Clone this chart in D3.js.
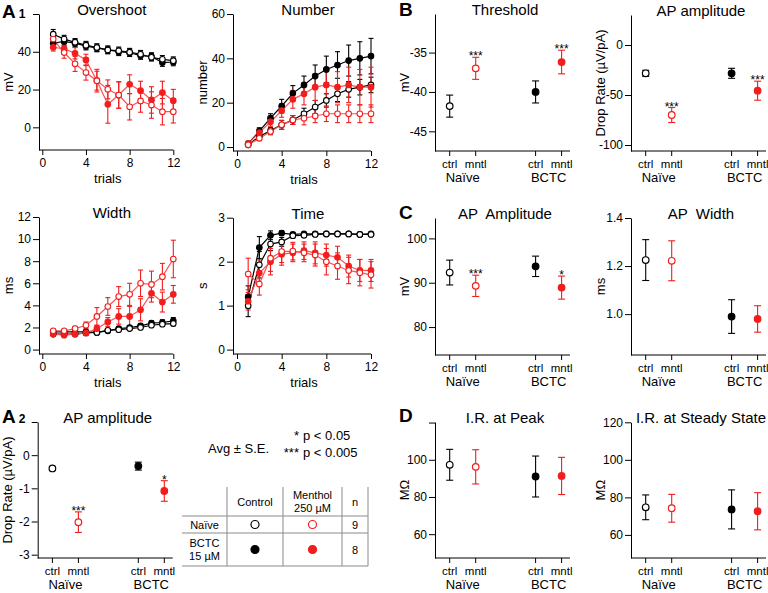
<!DOCTYPE html>
<html>
<head>
<meta charset="utf-8">
<script src="https://cdn.jsdelivr.net/npm/d3@7"></script>
<style>
  body { margin: 0; background: #fff; }
  svg { display: block; font-family: "Liberation Sans", Arial, sans-serif; }
</style>
</head>
<body>
<div id="chart"></div>
<script>
// ---------- data ----------
const trials = [1, 2, 3, 4, 5, 6, 7, 8, 9, 10, 11, 12];
const trialTicks = [0, 4, 8, 12];

// Overshoot (mV)
const overshootNaiveCtrl = [49.3, 46.7, 45, 43.5, 42.2, 41, 40.5, 39.8, 38.7, 37.1, 36, 35.3];
const overshootNaiveCtrlErr = [2.5, 2, 2, 2, 2, 2, 2, 2, 2, 2, 2, 2];
const overshootNaiveMntl = [46.7, 39.6, 33.6, 29, 24.7, 20.1, 17.1, 10.9, 14, 11.8, 8.3, 8.3];
const overshootNaiveMntlErr = [2, 3, 4, 4, 5, 5, 7, 7, 6, 7, 7, 6];
const overshootBctcCtrl = [44.5, 45.5, 44.5, 43, 42, 41, 40, 39.5, 38, 37.5, 34.3, 34.6];
const overshootBctcCtrlErr = [2, 2, 2, 2, 2, 2, 2, 2, 2, 2, 2, 2];
const overshootBctcMntl = [42.4, 41.5, 39.2, 35.7, 24.7, 12.2, 17.1, 22.8, 19.4, 14.5, 18.4, 14.1];
const overshootBctcMntlErr = [2, 2, 3, 3, 6, 10, 7, 5, 5, 7, 6, 6];

// Number of APs
const numberNaiveCtrl = [1, 4.7, 7.4, 10, 12.2, 15, 18, 21, 24, 26, 27, 28];
const numberNaiveCtrlErr = [0.5, 1, 1.5, 2, 2, 2.5, 3, 3, 3.5, 3.5, 3.5, 3.5];
const numberNaiveMntl = [1, 3.9, 7, 10, 12.2, 13, 14, 15, 15, 15, 15, 15];
const numberNaiveMntlErr = [0.5, 1, 1.5, 2, 2, 3, 3, 3.5, 4, 4, 4, 4];
const numberBctcCtrl = [1.5, 7.2, 13, 18.5, 24.2, 28, 32, 35, 37, 39, 40, 41];
const numberBctcCtrlErr = [0.5, 1.5, 2, 3, 3.5, 4, 5, 6, 6, 7, 7.5, 8];
const numberBctcMntl = [1.5, 6.5, 11.4, 16.4, 21.5, 24, 27, 28, 27, 28, 27, 27];
const numberBctcMntlErr = [0.5, 1.5, 2, 3, 4, 5, 6, 7, 7, 8, 8, 9];

// Width (ms)
const widthNaiveCtrl = [1.6, 1.6, 1.6, 1.6, 1.55, 1.75, 1.8, 1.9, 2.0, 2.2, 2.3, 2.35];
const widthNaiveCtrlErr = [0.1, 0.1, 0.1, 0.1, 0.1, 0.15, 0.15, 0.15, 0.15, 0.15, 0.2, 0.2];
const widthNaiveMntl = [1.7, 1.7, 1.9, 2.2, 3.0, 3.9, 4.8, 5.0, 6.0, 5.9, 6.6, 8.2];
const widthNaiveMntlErr = [0.1, 0.1, 0.2, 0.3, 0.8, 0.8, 0.9, 1.0, 1.2, 1.2, 1.2, 1.7];
const widthBctcCtrl = [1.4, 1.4, 1.4, 1.5, 1.55, 1.7, 1.9, 2.0, 2.15, 2.4, 2.45, 2.6];
const widthBctcCtrlErr = [0.1, 0.1, 0.1, 0.1, 0.1, 0.15, 0.15, 0.15, 0.2, 0.2, 0.25, 0.3];
const widthBctcMntl = [1.4, 1.3, 1.4, 1.5, 1.9, 2.5, 3.0, 3.0, 3.6, 5.1, 4.3, 5.0];
const widthBctcMntlErr = [0.1, 0.1, 0.15, 0.2, 0.3, 0.4, 0.7, 0.9, 1.0, 0.8, 0.9, 0.8];

// Time (s)
const timeNaiveCtrl = [1.0, 1.93, 2.4, 2.45, 2.59, 2.6, 2.62, 2.63, 2.63, 2.63, 2.62, 2.62];
const timeNaiveCtrlErr = [0.25, 0.3, 0.15, 0.1, 0.05, 0.04, 0.03, 0.03, 0.03, 0.03, 0.03, 0.03];
const timeNaiveMntl = [1.72, 1.49, 2.08, 2.23, 2.24, 2.2, 2.15, 2.0, 1.9, 1.8, 1.75, 1.7];
const timeNaiveMntlErr = [0.36, 0.25, 0.3, 0.25, 0.2, 0.2, 0.25, 0.3, 0.3, 0.3, 0.3, 0.3];
const timeBctcCtrl = [1.2, 2.32, 2.6, 2.65, 2.62, 2.63, 2.63, 2.63, 2.63, 2.63, 2.62, 2.63];
const timeBctcCtrlErr = [0.25, 0.25, 0.1, 0.05, 0.04, 0.03, 0.03, 0.03, 0.03, 0.03, 0.03, 0.03];
const timeBctcMntl = [1.1, 1.74, 2.0, 2.17, 2.2, 2.25, 2.2, 2.15, 2.1, 1.9, 1.8, 1.8];
const timeBctcMntlErr = [0.2, 0.3, 0.3, 0.25, 0.2, 0.2, 0.25, 0.25, 0.25, 0.25, 0.25, 0.25];

// summary panels: order is Naive ctrl, Naive mntl, BCTC ctrl, BCTC mntl
const groups = ['Naïve', 'BCTC'];
const conds = ['ctrl', 'mntl'];

const a2Drop = [-0.4, -2.02, -0.33, -1.08];
const a2DropErr = [0.05, 0.31, 0.12, 0.31];
const a2Stars = ['', '***', '', '*'];

const threshold = [-41.8, -37, -40, -36.2];
const thresholdErr = [1.4, 1.4, 1.4, 1.5];
const thresholdStars = ['', '***', '', '***'];

const bAmpDrop = [-28.3, -70, -28.3, -45.7];
const bAmpDropErr = [3, 7.5, 5, 9.5];
const bAmpStars = ['', '***', '', '***'];

const cAmplitude = [92.3, 89.3, 93.7, 88.9];
const cAmplitudeErr = [2.8, 2.4, 2.3, 2.6];
const cAmplitudeStars = ['', '***', '', '*'];

const cWidth = [1.225, 1.222, 0.99, 0.98];
const cWidthErr = [0.085, 0.083, 0.07, 0.055];

const irPeak = [97.3, 96.2, 91, 91.3];
const irPeakErr = [8.3, 9.2, 11, 10];

const irSteady = [74.7, 74.2, 73.6, 72.6];
const irSteadyErr = [6.6, 7.4, 10.4, 9.9];

// legend table
const tableCols = [['Control'], ['Menthol', '250 µM'], ['n']];
const tableRows = [['Naïve'], ['BCTC', '15 µM']];
const tableN = [9, 8];

// ---------- drawing ----------
const RED = '#f21d1d';
const RED_LINE = '#ff5050';

const svg = d3.select('#chart').append('svg')
  .attr('width', 768)
  .attr('height', 593);

function styleAxis(sel) {
  sel.attr('font-size', 12).attr('font-family', null);
  sel.selectAll('path, line').attr('stroke', '#000').attr('stroke-width', 1);
}

function errorBar(g, x, y0, y1, color, cap) {
  g.append('line').attr('x1', x).attr('x2', x).attr('y1', y0).attr('y2', y1)
    .attr('stroke', color).attr('stroke-width', 1.1);
  [y0, y1].forEach(yy => {
    g.append('line').attr('x1', x - cap).attr('x2', x + cap).attr('y1', yy).attr('y2', yy)
      .attr('stroke', color).attr('stroke-width', 1.1);
  });
}

function yLabel(g, text, x, y) {
  g.append('text')
    .attr('transform', `translate(${x},${y}) rotate(-90)`)
    .attr('text-anchor', 'middle')
    .attr('font-size', 13)
    .text(text);
}

// panel with 12 trials
function trialPanel(p) {
  const x = d3.scaleLinear().domain([0, 12]).range([p.x0, p.x1]);
  const y = d3.scaleLinear().domain(p.yDomain).range([p.bottom, p.top]);
  const g = svg.append('g');

  const tickVals = p.yTicks.concat(p.hiddenTicks || []);
  g.append('g')
    .attr('transform', `translate(${p.ax},0)`)
    .call(d3.axisLeft(y).tickValues(tickVals).tickSize(6).tickPadding(2).tickSizeOuter(0)
      .tickFormat(d => p.yTicks.includes(d) ? d : ''))
    .call(styleAxis);

  const xa = g.append('g')
    .attr('transform', `translate(0,${p.bottom})`)
    .call(d3.axisBottom(x).tickValues(trialTicks).tickSize(5).tickPadding(3))
    .call(styleAxis);
  xa.select('.domain').remove();
  g.append('line').attr('x1', p.ax).attr('x2', p.x1).attr('y1', p.bottom).attr('y2', p.bottom)
    .attr('stroke', '#000');

  g.append('text').attr('x', (p.x0 + p.x1) / 2).attr('y', p.bottom + 33)
    .attr('text-anchor', 'middle').attr('font-size', 13).text('trials');
  g.append('text').attr('x', (p.x0 + p.x1) / 2 + 4).attr('y', p.top + 1)
    .attr('text-anchor', 'middle').attr('font-size', 15).text(p.title);
  yLabel(g, p.ylabel, p.ax - 26, (p.top + p.bottom) / 2);

  const line = d3.line().x((d, i) => x(trials[i])).y(d => y(d));

  p.series.forEach(s => {
    const lineColor = s.color === '#000' ? '#000' : RED_LINE;
    g.append('path').datum(s.values)
      .attr('d', line).attr('fill', 'none')
      .attr('stroke', lineColor).attr('stroke-width', 1.2);
    s.values.forEach((v, i) => {
      errorBar(g, x(trials[i]), y(v - s.errs[i]), y(v + s.errs[i]), s.color, 2.5);
    });
  });
  p.series.forEach(s => {
    g.selectAll(null).data(s.values).enter().append('circle')
      .attr('cx', (d, i) => x(trials[i]))
      .attr('cy', d => y(d))
      .attr('r', 2.8)
      .attr('fill', s.filled ? s.color : '#fff')
      .attr('stroke', s.color)
      .attr('stroke-width', 1.1);
  });
}

// ctrl / mntl summary panel
function summaryPanel(p) {
  const gx = d3.scalePoint().domain(groups).range([p.ax + 27.7, p.ax + 113.6]);
  const cx = d3.scalePoint().domain(conds).range([-13, 13]);
  const y = d3.scaleLinear().domain(p.yDomain).range([p.bottom, p.top]);
  const g = svg.append('g');

  const rows = [];
  groups.forEach((grp, i) => conds.forEach((c, j) => {
    const k = i * 2 + j;
    rows.push({ grp, cond: c, v: p.values[k], e: p.errs[k],
      star: p.stars ? p.stars[k] : '',
      color: j === 0 ? '#000' : RED, filled: i === 1 });
  }));
  const px = d => gx(d.grp) + cx(d.cond);

  const tickVals = p.yTicks.concat(p.hiddenTicks || []);
  g.append('g')
    .attr('transform', `translate(${p.ax},0)`)
    .call(d3.axisLeft(y).tickValues(tickVals).tickSize(6).tickPadding(2).tickSizeOuter(0)
      .tickFormat(d => p.yTicks.includes(d) ? (p.fmt ? p.fmt(d) : d) : ''))
    .call(styleAxis);

  g.append('line').attr('x1', p.ax).attr('x2', p.ax + 135).attr('y1', p.bottom).attr('y2', p.bottom)
    .attr('stroke', '#000');
  rows.forEach(d => {
    g.append('line').attr('x1', px(d)).attr('x2', px(d))
      .attr('y1', p.bottom).attr('y2', p.bottom + 5).attr('stroke', '#000');
    g.append('text').attr('x', px(d)).attr('y', p.bottom + 17)
      .attr('text-anchor', 'middle').attr('font-size', 11.5).text(d.cond);
  });
  groups.forEach(grp => {
    g.append('text').attr('x', gx(grp)).attr('y', p.bottom + 31)
      .attr('text-anchor', 'middle').attr('font-size', 13).text(grp);
  });

  g.append('text').attr('x', p.ax + 70).attr('y', p.top + 1)
    .attr('text-anchor', 'middle').attr('font-size', 15)
    .style('white-space', 'pre').text(p.title);
  yLabel(g, p.ylabel, p.ax - 26, (p.top + p.bottom) / 2);

  rows.forEach(d => {
    errorBar(g, px(d), y(d.v - d.e), y(d.v + d.e), d.color, 3.5);
    if (d.star) {
      g.append('text').attr('x', px(d)).attr('y', y(d.v + d.e) + 3)
        .attr('text-anchor', 'middle').attr('font-size', 12).text(d.star);
    }
  });
  g.selectAll(null).data(rows).enter().append('circle')
    .attr('cx', px)
    .attr('cy', d => y(d.v))
    .attr('r', 3.3)
    .attr('fill', d => d.filled ? d.color : '#fff')
    .attr('stroke', d => d.color)
    .attr('stroke-width', 1.2);
}

function series(nc, nce, nm, nme, bc, bce, bm, bme) {
  return [
    { values: bc, errs: bce, color: '#000', filled: true },
    { values: nc, errs: nce, color: '#000', filled: false },
    { values: bm, errs: bme, color: RED, filled: true },
    { values: nm, errs: nme, color: RED, filled: false }
  ];
}

// ---- A1 ----
trialPanel({ ax: 39, x0: 42.3, x1: 173.3, top: 14, bottom: 150, yDomain: [-12, 60],
  yTicks: [0, 20, 40], hiddenTicks: [60], title: 'Overshoot', ylabel: 'mV',
  series: series(overshootNaiveCtrl, overshootNaiveCtrlErr, overshootNaiveMntl, overshootNaiveMntlErr,
    overshootBctcCtrl, overshootBctcCtrlErr, overshootBctcMntl, overshootBctcMntlErr) });

trialPanel({ ax: 233, x0: 237, x1: 371, top: 14, bottom: 151, yDomain: [-1.8, 60],
  yTicks: [0, 20, 40, 60], title: 'Number', ylabel: 'number',
  series: series(numberNaiveCtrl, numberNaiveCtrlErr, numberNaiveMntl, numberNaiveMntlErr,
    numberBctcCtrl, numberBctcCtrlErr, numberBctcMntl, numberBctcMntlErr) });

trialPanel({ ax: 39, x0: 42.3, x1: 173.3, top: 217, bottom: 354, yDomain: [-0.4, 12],
  yTicks: [0, 2, 4, 6, 8, 10, 12], title: 'Width', ylabel: 'ms',
  series: series(widthNaiveCtrl, widthNaiveCtrlErr, widthNaiveMntl, widthNaiveMntlErr,
    widthBctcCtrl, widthBctcCtrlErr, widthBctcMntl, widthBctcMntlErr) });

trialPanel({ ax: 233, x0: 237, x1: 371, top: 217.7, bottom: 354, yDomain: [-0.1, 3],
  yTicks: [0, 1, 2, 3], title: 'Time', ylabel: 's',
  series: series(timeNaiveCtrl, timeNaiveCtrlErr, timeNaiveMntl, timeNaiveMntlErr,
    timeBctcCtrl, timeBctcCtrlErr, timeBctcMntl, timeBctcMntlErr) });

// ---- A2 ----
summaryPanel({ ax: 37.7, top: 422, bottom: 558, yDomain: [-3.1, 1], yTicks: [-3, -2, -1, 0],
  hiddenTicks: [1], title: 'AP amplitude', ylabel: 'Drop Rate (µV/pA)',
  values: a2Drop, errs: a2DropErr, stars: a2Stars });

// ---- B ----
summaryPanel({ ax: 435, top: 14, bottom: 151, yDomain: [-47.5, -30.1], yTicks: [-45, -40, -35],
  title: 'Threshold', ylabel: 'mV', values: threshold, errs: thresholdErr, stars: thresholdStars });
summaryPanel({ ax: 631, top: 15, bottom: 151, yDomain: [-106, 30], yTicks: [-100, -50, 0],
  title: 'AP amplitude', ylabel: 'Drop Rate (µV/pA)', values: bAmpDrop, errs: bAmpDropErr,
  stars: bAmpStars });

// ---- C ----
summaryPanel({ ax: 435, top: 218, bottom: 355, yDomain: [73.7, 104.6], yTicks: [80, 90, 100],
  title: 'AP  Amplitude', ylabel: 'mV', values: cAmplitude, errs: cAmplitudeErr,
  stars: cAmplitudeStars });
summaryPanel({ ax: 631, top: 218, bottom: 355, yDomain: [0.83, 1.4], yTicks: [1.0, 1.2, 1.4],
  fmt: d3.format('.1f'), title: 'AP  Width', ylabel: 'ms', values: cWidth, errs: cWidthErr });

// ---- D ----
summaryPanel({ ax: 435, top: 422, bottom: 558, yDomain: [47.2, 120.3], yTicks: [60, 80, 100],
  hiddenTicks: [120], title: 'I.R. at Peak', ylabel: 'MΩ', values: irPeak, errs: irPeakErr });
summaryPanel({ ax: 631, top: 422.3, bottom: 558, yDomain: [47.7, 120], yTicks: [60, 80, 100, 120],
  title: 'I.R. at Steady State', ylabel: 'MΩ', values: irSteady, errs: irSteadyErr });

// ---- panel letters ----
const letters = [
  { t: 'A', sub: '1', x: 2, y: 18 },
  { t: 'A', sub: '2', x: 2, y: 423 },
  { t: 'B', x: 399, y: 16 },
  { t: 'C', x: 399, y: 219 },
  { t: 'D', x: 399, y: 422 }
];
letters.forEach(l => {
  const t = svg.append('text').attr('x', l.x).attr('y', l.y)
    .attr('font-size', 19).attr('font-weight', 'bold').text(l.t);
  if (l.sub) t.append('tspan').attr('dx', 3).attr('font-size', 12).text(l.sub);
});

// ---- legend text ----
svg.append('text').attr('x', 208).attr('y', 453).attr('font-size', 13).text('Avg ± S.E.');
[['*', 'p < 0.05', 440], ['***', 'p < 0.005', 457]].forEach(([s, t, yy]) => {
  svg.append('text').attr('x', 299).attr('y', yy).attr('text-anchor', 'end')
    .attr('font-size', 13).text(s);
  svg.append('text').attr('x', 303).attr('y', yy).attr('font-size', 13).text(t);
});

// ---- legend table ----
const tbl = svg.append('g').attr('font-size', 11);
const colEdges = [182, 227, 283, 342, 368];
const rowEdges = [487, 516, 533, 566];
const gray = '#8a8a8a';
rowEdges.slice(1).forEach(yy => {
  tbl.append('line').attr('x1', colEdges[0]).attr('x2', colEdges[4]).attr('y1', yy).attr('y2', yy)
    .attr('stroke', gray);
});
colEdges.slice(1).forEach(xx => {
  tbl.append('line').attr('x1', xx).attr('x2', xx).attr('y1', rowEdges[0]).attr('y2', rowEdges[3])
    .attr('stroke', gray);
});
const colMid = i => (colEdges[i] + colEdges[i + 1]) / 2;
const rowMid = i => (rowEdges[i] + rowEdges[i + 1]) / 2;
function multiLine(lines, cxp, cyp) {
  lines.forEach((s, i) => {
    tbl.append('text').attr('x', cxp).attr('y', cyp + 4 + (i - (lines.length - 1) / 2) * 13)
      .attr('text-anchor', 'middle').text(s);
  });
}
tableCols.forEach((c, i) => multiLine(c, colMid(i + 1), rowMid(0)));
tableRows.forEach((r, i) => {
  multiLine(r, colMid(0), rowMid(i + 1));
  tbl.append('text').attr('x', colMid(3)).attr('y', rowMid(i + 1) + 4)
    .attr('text-anchor', 'middle').text(tableN[i]);
  [['#000', colMid(1)], [RED, colMid(2)]].forEach(([col, xx]) => {
    tbl.append('circle').attr('cx', xx).attr('cy', rowMid(i + 1)).attr('r', 4)
      .attr('fill', i === 1 ? col : '#fff').attr('stroke', col).attr('stroke-width', 1.2);
  });
});
</script>
</body>
</html>
